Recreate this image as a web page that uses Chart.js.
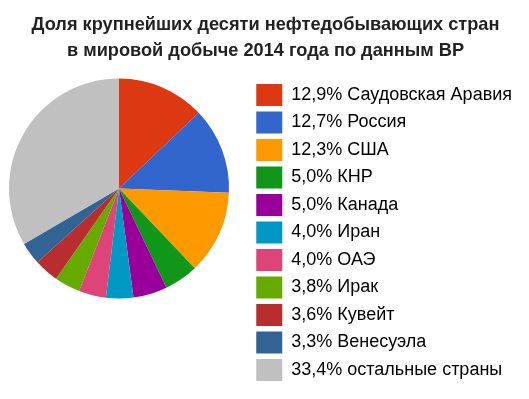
<!DOCTYPE html>
<html>
<head>
<meta charset="utf-8">
<script src="https://cdn.jsdelivr.net/npm/chart.js@4"></script>
<style>
  html, body { margin: 0; padding: 0; background: #fff; }
  #wrap { width: 529px; height: 399px; }
</style>
</head>
<body>
<div id="wrap"><canvas id="oilChart"></canvas></div>
<script>
// shares of top-10 oil producers, 2014 (BP)
const countries = ["Саудовская Аравия", "Россия", "США", "КНР", "Канада", "Иран", "ОАЭ", "Ирак", "Кувейт", "Венесуэла", "остальные страны"];
const shares = [12.9, 12.7, 12.3, 5.0, 5.0, 4.0, 4.0, 3.8, 3.6, 3.3, 33.4];
const sliceColors = ["#dc3912", "#3366cc", "#ff9900", "#109618", "#990099", "#0099c6", "#dd4477", "#66aa00", "#b82e2e", "#316395", "#c0c0c0"];
const titleLines = ["Доля крупнейших десяти нефтедобывающих стран", "в мировой добыче 2014 года по данным BP"];

const pieSize = 220;

// keep the pie square on the left, legend takes the tall column on the right
const pieBox = {
    id: "pieBox",
    afterLayout(chart) {
        const area = chart.chartArea;
        area.right = area.left + pieSize;
        area.width = pieSize;
        area.bottom = area.top + pieSize;
        area.height = pieSize;
    }
};

const fmt = (v) => v.toFixed(1).replace(".", ",") + "%";

const ctx = document.getElementById("oilChart");

new Chart(ctx, {
    type: "pie",
    data: {
        labels: countries,
        datasets: [{
            data: shares,
            backgroundColor: sliceColors,
            borderWidth: 0
        }]
    },
    options: {
        responsive: true,
        maintainAspectRatio: false,
        animation: false,
        layout: {
            padding: { left: 9, right: 7, top: 0, bottom: 0 }
        },
        plugins: {
            title: {
                display: true,
                text: titleLines,
                color: "#222",
                font: { family: "'Liberation Sans', Arial, sans-serif", size: 18.2, weight: "bold", lineHeight: 26 / 18.2 },
                padding: { top: 12, bottom: 14.5 }
            },
            legend: {
                position: "right",
                align: "start",
                fullSize: false,
                maxWidth: 320,
                labels: {
                    boxWidth: 26,
                    boxHeight: 22,
                    padding: 5.5,
                    color: "#222",
                    font: { family: "'Liberation Sans', Arial, sans-serif", size: 18 },
                    generateLabels: (chart) => countries.map((name, i) => ({
                        text: fmt(shares[i]) + " " + name,
                        fillStyle: sliceColors[i],
                        strokeStyle: sliceColors[i],
                        lineWidth: 0,
                        hidden: false,
                        index: i
                    }))
                }
            },
            tooltip: { enabled: false }
        }
    },
    plugins: [pieBox]
});
</script>
</body>
</html>
